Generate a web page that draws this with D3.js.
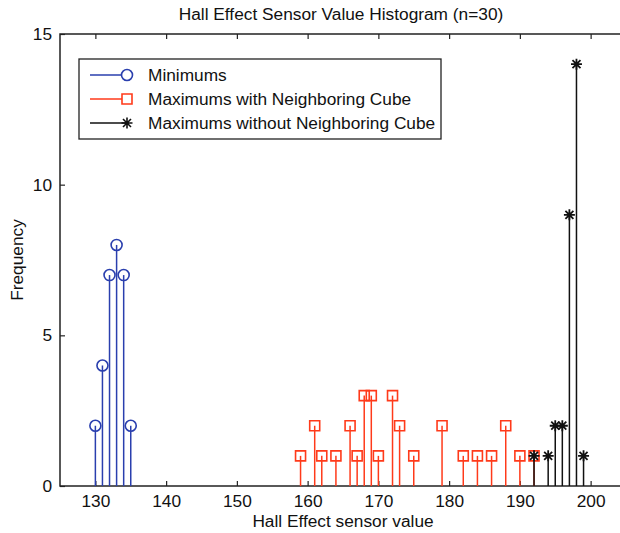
<!DOCTYPE html>
<html>
<head>
<meta charset="utf-8">
<script src="https://cdn.jsdelivr.net/npm/d3@7"></script>
<style>
	body { margin: 0; background: #fff; }
	text { font-family: "Liberation Sans", Arial, sans-serif; fill: #111; }
</style>
</head>
<body>
<div class="container"></div>
<script>
// histogram counts per sensor value
var minValues = [130, 131, 132, 133, 134, 135];
var minCounts = [2, 4, 7, 8, 7, 2];

var maxWithValues = [159, 161, 162, 164, 166, 167, 168, 169, 170, 172, 173, 175, 179, 182, 184, 186, 188, 190, 192];
var maxWithCounts = [1, 2, 1, 1, 2, 1, 3, 3, 1, 3, 2, 1, 2, 1, 1, 1, 2, 1, 1];

var maxWithoutValues = [192, 194, 195, 196, 197, 198, 199];
var maxWithoutCounts = [1, 1, 2, 2, 9, 14, 1];

var xTicks = [130, 140, 150, 160, 170, 180, 190, 200];
var yTicks = [0, 5, 10, 15];

var seriesNames = ["Minimums", "Maximums with Neighboring Cube", "Maximums without Neighboring Cube"];

(function() {
	var width = 620, height = 533;
	var left = 60, top = 34, plotW = 566, plotH = 452;
	var fs = 17.3;
	var colors = ["#2a3fae", "#ff3a1a", "#111111"];
	var markers = ["circle", "square", "star"];

	var svg = d3.select(".container").append("svg")
		.attr("width", width)
		.attr("height", height);

	var x = d3.scaleLinear().domain([125, 205]).range([left, left + plotW]);
	var y = d3.scaleLinear().domain([0, 15]).range([top + plotH, top]);

	// ticks drawn inward on all sides
	var g = svg.append("g");
	g.append("g").attr("transform", "translate(0," + (top + plotH) + ")")
		.call(d3.axisBottom(x).tickValues(xTicks).tickSizeInner(-5).tickSizeOuter(0).tickPadding(9))
		.call(styleAxis);
	g.append("g").attr("transform", "translate(0," + top + ")")
		.call(d3.axisTop(x).tickValues(xTicks).tickSizeInner(-5).tickSizeOuter(0).tickFormat(""))
		.call(styleAxis);
	g.append("g").attr("transform", "translate(" + left + ",0)")
		.call(d3.axisLeft(y).tickValues(yTicks).tickSizeInner(-5).tickSizeOuter(0).tickPadding(8))
		.call(styleAxis);

	function styleAxis(sel) {
		sel.select(".domain").remove();
		sel.selectAll("line").attr("stroke", "#222").attr("stroke-width", 1.2);
		sel.selectAll("text").attr("font-size", fs).attr("fill", "#111");
	}

	svg.append("rect")
		.attr("x", left).attr("y", top)
		.attr("width", plotW).attr("height", plotH)
		.attr("fill", "none").attr("stroke", "#222").attr("stroke-width", 1.5);

	function markerPath(type) {
		if (type === "circle") return d3.symbol().type(d3.symbolCircle).size(95)();
		if (type === "square") return "M-5,-5H5V5H-5Z";
		return "M-5.5,0H5.5M0,-5.5V5.5M-4,-4L4,4M-4,4L4,-4";
	}

	function drawStems(values, counts, i) {
		var data = values.map(function(v, k) { return {v: v, c: counts[k]}; });
		var s = svg.append("g");
		s.selectAll("line").data(data).enter().append("line")
			.attr("x1", function(d) { return x(d.v); })
			.attr("x2", function(d) { return x(d.v); })
			.attr("y1", y(0))
			.attr("y2", function(d) { return y(d.c); })
			.attr("stroke", colors[i])
			.attr("stroke-width", 1.5);
		s.selectAll("path").data(data).enter().append("path")
			.attr("d", markerPath(markers[i]))
			.attr("transform", function(d) { return "translate(" + x(d.v) + "," + y(d.c) + ")"; })
			.attr("fill", "none")
			.attr("stroke", colors[i])
			.attr("stroke-width", markers[i] === "star" ? 1.8 : 1.6);
	}

	drawStems(minValues, minCounts, 0);
	drawStems(maxWithValues, maxWithCounts, 1);
	drawStems(maxWithoutValues, maxWithoutCounts, 2);

	// legend
	var lg = svg.append("g");
	lg.append("rect")
		.attr("x", 79).attr("y", 59)
		.attr("width", 362).attr("height", 80)
		.attr("fill", "#fff").attr("stroke", "#222").attr("stroke-width", 1.3);
	seriesNames.forEach(function(name, i) {
		var ly = 75 + i * 24;
		lg.append("line")
			.attr("x1", 90).attr("x2", 127).attr("y1", ly).attr("y2", ly)
			.attr("stroke", colors[i]).attr("stroke-width", 1.4);
		lg.append("path")
			.attr("d", markerPath(markers[i]))
			.attr("transform", "translate(127," + ly + ")")
			.attr("fill", "#fff")
			.attr("stroke", colors[i])
			.attr("stroke-width", 1.6);
		lg.append("text")
			.attr("x", 148).attr("y", ly + 6)
			.attr("font-size", fs)
			.text(name);
	});

	svg.append("text")
		.attr("x", 341).attr("y", 20)
		.attr("text-anchor", "middle")
		.attr("font-size", fs)
		.text("Hall Effect Sensor Value Histogram (n=30)");

	svg.append("text")
		.attr("x", 343).attr("y", 527)
		.attr("text-anchor", "middle")
		.attr("font-size", fs)
		.text("Hall Effect sensor value");

	svg.append("text")
		.attr("transform", "translate(23,260) rotate(-90)")
		.attr("text-anchor", "middle")
		.attr("font-size", fs)
		.text("Frequency");
})();
</script>
</body>
</html>
